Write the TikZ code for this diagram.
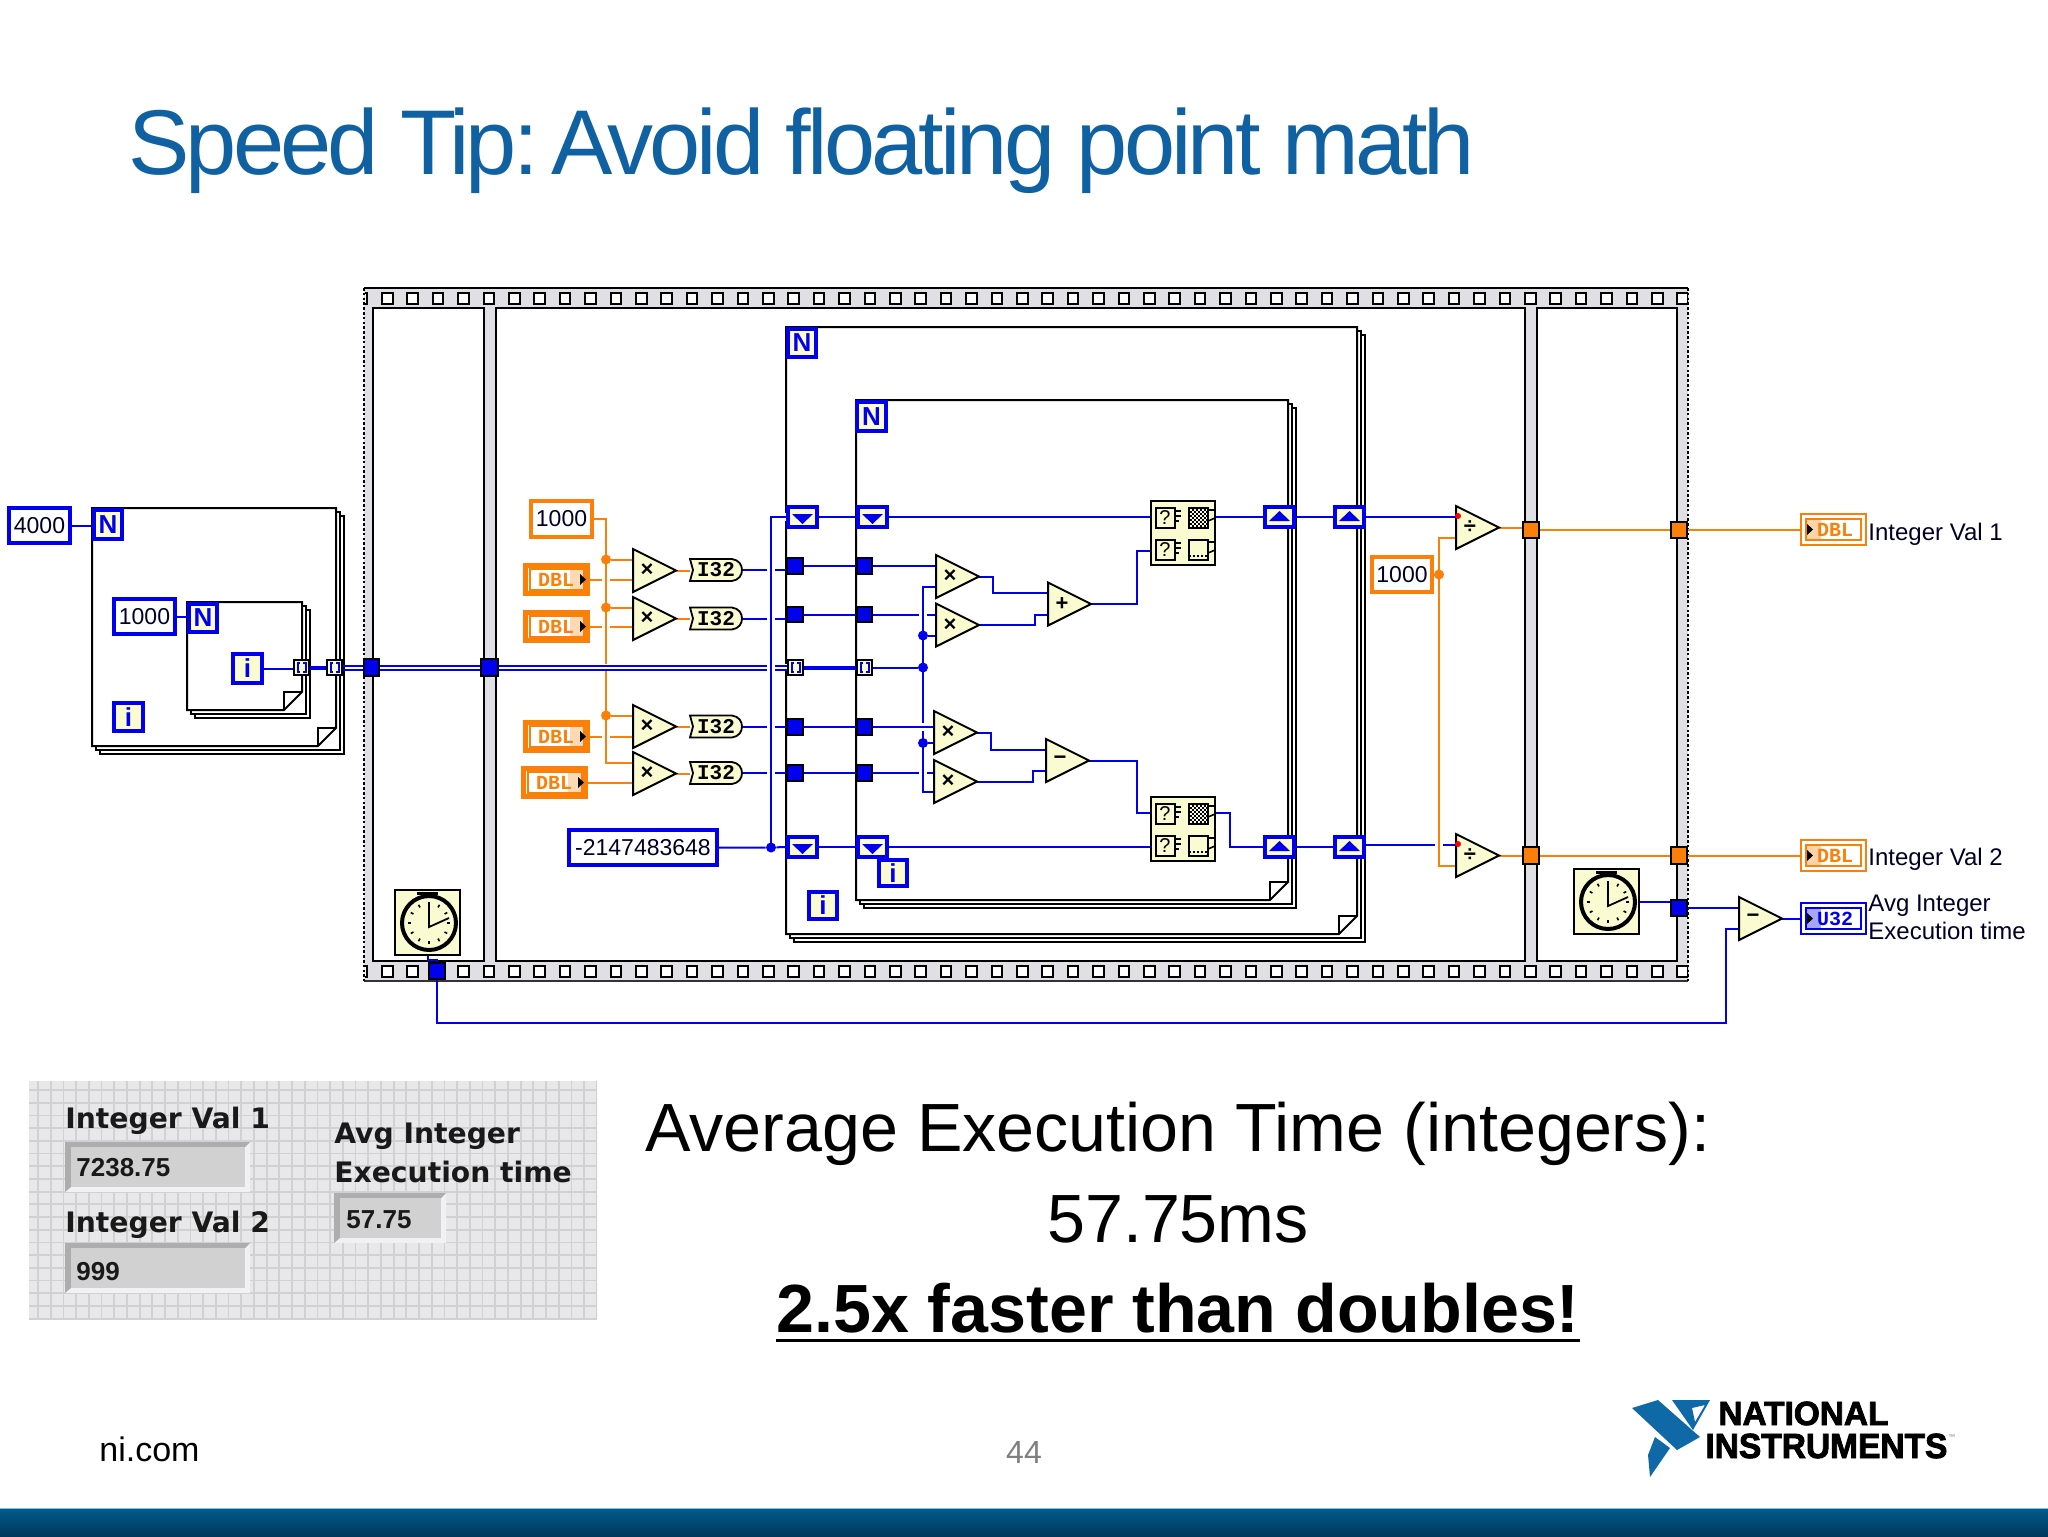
\documentclass[tikz,border=0pt]{standalone}
\usepackage{fontspec}
\usepackage{graphicx}
\setmainfont{Liberation Sans}
\newfontfamily\titlefont[LetterSpace=-4.25]{Liberation Sans}
\newfontfamily\monofnt{Liberation Mono}
\newfontfamily\dvfont{DejaVu Sans}
\newfontfamily\logofont{Liberation Sans}[UprightFont=* Bold, FakeBold=2.5]
\usetikzlibrary{calc}
\definecolor{lvb}{RGB}{0,0,238}
\definecolor{lvo}{RGB}{250,128,10}
\definecolor{lvy}{RGB}{251,251,210}
\definecolor{lvg}{RGB}{224,224,228}
\definecolor{ttl}{RGB}{16,97,162}
\definecolor{barT}{RGB}{0,90,140}
\definecolor{barB}{RGB}{0,56,92}
\definecolor{barL}{RGB}{130,190,225}
\pgfdeclarelayer{back}\pgfdeclarelayer{wire}
\pgfsetlayers{back,wire,main}
\tikzset{
 bw/.style={draw=lvb,line width=1pt},
 ow/.style={draw=lvo,line width=1pt},
 bwh/.style={bw,preaction={draw=white,line width=3.6pt}},
 owh/.style={ow,preaction={draw=white,line width=3.6pt}},
 anynode/.style={inner sep=0pt,font=\fontsize{11.5}{13}\selectfont\color{black!85!blue}},
 bconst/.style={anynode,draw=lvb,fill=white,line width=2pt},
 oconst/.style={anynode,draw=lvo,fill=white,line width=2pt},
 termbox/.style={anynode,draw=lvb,fill=lvy,line width=2pt,text=lvb,font=\fontsize{13}{14}\bfseries\selectfont},
 srbox/.style={anynode,draw=lvb,fill=lvy,line width=2pt},
 bsq/.style={anynode,draw=black,fill=lvb,line width=1pt},
 osq/.style={anynode,draw=black,fill=lvo,line width=1pt},
 tun/.style={anynode,draw=black,fill=lvy,line width=1pt},
 cxbox/.style={anynode,draw=black,fill=lvy,line width=1pt},
 tri/.style={draw=black,fill=lvy,line width=1pt,line join=miter},
 sym/.style={inner sep=0pt,font=\fontsize{11}{12}\bfseries\selectfont},
 jb/.style={circle,fill=lvb,inner sep=0pt,minimum size=5pt},
 jo/.style={circle,fill=lvo,inner sep=0pt,minimum size=5pt},
 ctlbox/.style={anynode,draw=lvo,fill=white,line width=2.4pt},
 indbox/.style={anynode,line width=1pt,fill=white},
 wlabel/.style={inner sep=0pt,anchor=base west,font=\fontsize{12}{14}\selectfont\color{black!85!blue}},
 plabel/.style={inner sep=0pt,anchor=base west,font=\fontsize{14.1}{16}\dvfont\bfseries\selectfont\color{black!90}},
 pvalue/.style={inner sep=0pt,anchor=west,font=\fontsize{13}{15}\bfseries\selectfont\color{black!90}},
 big/.style={inner sep=0pt,anchor=base,font=\fontsize{34.1}{40}\selectfont},
 loopline/.style={draw=black,fill=white,line width=1pt},
 ltext/.style={inner sep=0pt,anchor=base west,text=black}
}
% name x1 y1 x2 y2 style text
\newcommand\lvbox[7]{\node[#6,minimum width={(#4-#2)*0.5pt-\pgflinewidth},minimum height={(#5-#3)*0.5pt-\pgflinewidth}] (#1) at ({(#2+#4)/2},{(#3+#5)/2}) {#7};}
% triangle: name left top symbol
\newcommand\lvtri[4]{
 \draw[tri] (#2,#3) -- (#2+43,#3+21.5) -- (#2,#3+43) -- cycle;
 \node[sym] (#1) at (#2+14,#3+21.5) {#4};
 \coordinate (#1a) at (#2,#3+10.5);
 \coordinate (#1b) at (#2,#3+32);
 \coordinate (#1l) at (#2,#3+21.5);
 \coordinate (#1o) at (#2+43,#3+21.5);
}
% shift registers: name x y
\newcommand\lvsd[3]{\lvbox{#1}{#2}{#3}{#2+33}{#3+24}{srbox}{}
 \fill[lvb] (#2+6,#3+9) -- (#2+27,#3+9) -- (#2+16.5,#3+19) -- cycle;}
\newcommand\lvsu[3]{\lvbox{#1}{#2}{#3}{#2+33}{#3+24}{srbox}{}
 \fill[lvb] (#2+6,#3+16) -- (#2+27,#3+16) -- (#2+16.5,#3+6) -- cycle;}
% array tunnel: name x y
\newcommand\lvtun[3]{\lvbox{#1}{#2}{#3}{#2+17}{#3+17}{tun}{}
 \draw[lvb,line width=1pt] (#2+7,#3+4) -- (#2+4.5,#3+4) -- (#2+4.5,#3+13) -- (#2+7,#3+13);
 \draw[lvb,line width=1pt] (#2+10,#3+4) -- (#2+12.5,#3+4) -- (#2+12.5,#3+13) -- (#2+10,#3+13);}
% orange control: name x y
\newcommand\lvctl[3]{\lvbox{#1}{#2}{#3}{#2+67}{#3+33}{ctlbox}{}
 \fill[lvo!30] (#2+47,#3+6) rectangle (#2+60,#3+26);
 \draw[lvo,line width=.8pt] (#2+7,#3+6) rectangle (#2+61,#3+27);
 \node[inner sep=0pt,text=lvo,font=\fontsize{10}{11}\monofnt\bfseries\selectfont] at (#2+33,#3+16.5) {DBL};
 \fill[black] (#2+57,#3+11) -- (#2+63,#3+16.5) -- (#2+57,#3+22) -- cycle;}
% indicator: name x y colour text
\newcommand\lvind[5]{\lvbox{#1}{#2}{#3}{#2+67}{#3+33}{indbox,draw=#4}{}
 \fill[#4!35] (#2+6,#3+6) rectangle (#2+21,#3+27);
 \draw[#4,line width=.8pt] (#2+6,#3+6) rectangle (#2+61,#3+27);
 \node[inner sep=0pt,text=#4,font=\fontsize{10}{11}\monofnt\bfseries\selectfont] at (#2+35,#3+16.5) {#5};
 \fill[black] (#2+7,#3+11) -- (#2+13,#3+16.5) -- (#2+7,#3+22) -- cycle;}
% I32: name x y
\newcommand\lvconv[3]{
 \draw[black,fill=lvy,line width=.9pt] (#2,#3) -- (#2+42,#3) .. controls (#2+49,#3+1) and (#2+52,#3+6) .. (#2+52,#3+11) .. controls (#2+52,#3+16) and (#2+49,#3+21) .. (#2+42,#3+22) -- (#2,#3+22) -- (#2+3,#3+11) -- cycle;
 \node[minimum width=26pt,minimum height=11pt,inner sep=0pt,font=\fontsize{10.5}{11}\monofnt\bfseries\selectfont] (#1) at (#2+26,#3+11) {I32};}
% stacked loop: x1 y1 x2 y2
\newcommand\lvloop[4]{
 \draw[loopline] (#1+8,#2+8) rectangle (#3+8,#4+8);
 \draw[loopline] (#1+4,#2+4) rectangle (#3+4,#4+4);
 \draw[loopline] (#1,#2) -- (#3,#2) -- (#3,#4-18) -- (#3-18,#4) -- (#1,#4) -- cycle;
 \draw[black,line width=1pt] (#3-18,#4) -- (#3-18,#4-18) -- (#3,#4-18);}
% clock: name x y
\newcommand\lvclock[3]{\lvbox{#1}{#2}{#3}{#2+67}{#3+67}{cxbox}{}
 \coordinate (cc) at (#2+35,#3+34);
 \draw[black,line width=2pt] (cc) circle[radius=27];
 \draw[black,line width=1.6pt] (#2+23,#3+4.5) -- (#2+44,#3+4.5);
 \draw[black,line width=2pt] (#2+35,#3+4.5) -- (#2+35,#3+8);
 \foreach \a in {0,30,...,330}{\draw[black,line width=.8pt] (cc)+(\a:18) -- +(\a:21);}
 \draw[black,line width=.9pt] (#2+35,#3+14) -- (#2+35,#3+38) -- (#2+55,#3+29);}
% coffee cup icons
\newcommand\lvmug[2]{\draw[black,line width=1pt,fill=lvy] (#1,#2) rectangle (#1+19,#2+20);}
\newcommand\lvmugq[2]{\lvmug{#1}{#2}
 \draw[black,line width=.8pt] (#1+19,#2+3) -- (#1+25,#2+3) (#1+19,#2+8) -- (#1+25,#2+8) (#1+19,#2+13) -- (#1+23,#2+13);
 \node[inner sep=0pt,font=\fontsize{10}{10}\selectfont] at (#1+9,#2+10) {?};}
\newcommand\lvmugh[2]{\draw[black,line width=.8pt] (#1+19,#2+2) -- (#1+26,#2+2) -- (#1+26,#2+10) -- (#1+19,#2+13);}
\newcommand\lvcx[3]{\lvbox{#1}{#2}{#3}{#2+66}{#3+66}{cxbox}{}
 \coordinate (#1a) at (#2,#3+17);
 \coordinate (#1b) at (#2,#3+51);
 \coordinate (#1o) at (#2+66,#3+17);
 \lvmugq{#2+6}{#3+8}
 \lvmug{#2+39}{#3+8}\lvmugh{#2+39}{#3+8}
 \foreach \k in {1,...,9}{\draw[black,line width=1pt,dash pattern=on 1pt off 1pt,dash phase={mod(\k,2)*1pt}] (#2+40,#3+8+\k*2) -- (#2+57,#3+8+\k*2);}
 \lvmugq{#2+6}{#3+40}
 \lvmug{#2+39}{#3+40}\lvmugh{#2+39}{#3+40}
 \draw[black,line width=1.4pt,dash pattern=on 1pt off 1pt] (#2+39,#3+56) -- (#2+58,#3+56);}
% front panel indicator: x1 y1 x2 y2
\newcommand\lvpanelbox[4]{
 \fill[white!55!lvg] (#1,#2) rectangle (#3,#4);
 \fill[black!32] (#1,#2) -- (#3,#2) -- (#3-5,#2+5) -- (#1+6,#2+5) -- (#1+6,#4-5) -- (#1,#4) -- cycle;
 \fill[black!18] (#1+6,#2+5) rectangle (#3-5,#4-5);}

\begin{document}
\begin{tikzpicture}[x=0.5pt,y=-0.5pt]
\useasboundingbox (0,0) rectangle (2048,1536);

% ===== back layer: frames and loops
\begin{pgfonlayer}{back}
\fill[white] (0,0) rectangle (2048,1536);
\fill[lvg] (364,288) rectangle (1688,981);
\draw[black,line width=1pt] (364,288) -- (1688,288);
\draw[black!80,line width=1pt] (364,981) -- (1688,981);
\draw[black,line width=1.3pt,dash pattern=on 1.3pt off 1.1pt] (364,288) -- (364,981);
\draw[black,line width=1.3pt,dash pattern=on 1.3pt off 1.1pt] (1688,288) -- (1688,981);
\begin{scope}
\clip (365,288) rectangle (1688,981);
\foreach \k in {-1,...,51}{
 \draw[black,fill=white,line width=1pt] (382+\k*25.4,293) rectangle (392.5+\k*25.4,303.5);
 \draw[black,fill=white,line width=1pt] (382+\k*25.4,966) rectangle (392.5+\k*25.4,976.5);}
\end{scope}
\draw[black,fill=white,line width=1pt] (373,308) rectangle (484,961);
\draw[black,fill=white,line width=1pt] (496,308) rectangle (1525,961);
\draw[black,fill=white,line width=1pt] (1537,308) rectangle (1677,961);
\lvloop{92}{508}{336}{746}
\lvloop{187}{602}{302}{710}
\lvloop{786}{327}{1357}{934}
\lvloop{856}{400}{1288}{900}
\end{pgfonlayer}

% ===== nodes of the left loops
\lvbox{c4k}{7}{506}{72}{545}{bconst}{4000}
\lvbox{n1}{92}{508}{124}{541}{termbox}{N}
\lvbox{c1kb}{112}{597}{177}{636}{bconst}{1000}
\lvbox{n2}{187}{602}{219}{634}{termbox}{N}
\lvbox{i2}{231}{652}{264}{685}{termbox}{i}
\lvbox{i1}{112}{701}{145}{733}{termbox}{i}
\lvtun{t1}{293}{659}
\lvtun{t2}{326}{659}
\lvbox{sA}{363}{658}{380}{677}{bsq}{}
\lvbox{sB}{480}{658}{499}{677}{bsq}{}

% ===== constants, controls, first multiply stage
\lvbox{o1}{529}{499}{594}{539}{oconst}{1000}
\lvctl{d1}{523}{563}
\lvctl{d2}{523}{610}
\lvctl{d3}{523}{720}
\lvctl{d4}{521}{766}
\lvtri{T1}{633}{549}{×}
\lvtri{T2}{633}{597}{×}
\lvtri{T3}{633}{705}{×}
\lvtri{T4}{633}{752}{×}
\lvconv{I1}{690}{559}
\lvconv{I2}{690}{607.5}
\lvconv{I3}{690}{715.5}
\lvconv{I4}{690}{762}
\lvbox{ck}{567}{828}{719}{867}{bconst}{-2147483648}

% ===== tunnels on the outer and inner For Loops
\lvbox{n3}{786}{327}{818}{359}{termbox}{N}
\lvbox{n4}{855}{400}{888}{433}{termbox}{N}
\lvsd{sd1}{786}{505}
\lvsd{sd2}{856}{505}
\lvsd{sd3}{786}{835}
\lvsd{sd4}{856}{835}
\lvbox{s1}{786}{557}{804}{575}{bsq}{}
\lvbox{s2}{786}{606}{804}{623}{bsq}{}
\lvbox{s3}{786}{718}{804}{736}{bsq}{}
\lvbox{s4}{786}{764}{804}{782}{bsq}{}
\lvbox{r1}{856}{557}{873}{575}{bsq}{}
\lvbox{r2}{856}{606}{873}{623}{bsq}{}
\lvbox{r3}{856}{718}{873}{736}{bsq}{}
\lvbox{r4}{856}{764}{873}{782}{bsq}{}
\lvtun{t3}{787}{659}
\lvtun{t4}{856}{659}
\lvbox{i4}{877}{858}{909}{888}{termbox}{i}
\lvbox{i3}{807}{890}{839}{921}{termbox}{i}

% ===== inner math
\lvtri{A}{936}{555}{×}
\lvtri{B}{936}{603.5}{×}
\lvtri{C}{934}{711}{×}
\lvtri{D}{934}{760}{×}
\lvtri{P}{1048}{582.5}{+}
\lvtri{M}{1046}{739}{−}
\lvcx{cxa}{1150}{500}
\lvcx{cxb}{1150}{796}
\lvsu{su1}{1263}{505}
\lvsu{su2}{1333}{505}
\lvsu{su3}{1263}{835}
\lvsu{su4}{1333}{835}

% ===== right of the loops
\lvbox{o2}{1370}{555}{1434}{594}{oconst}{1000}
\lvtri{Fu}{1456}{506}{÷}
\lvtri{Fv}{1456}{834}{÷}
\lvbox{q1}{1522}{521}{1540}{539}{osq}{}
\lvbox{q2}{1670}{521}{1688}{539}{osq}{}
\lvbox{q3}{1522}{846}{1540}{865}{osq}{}
\lvbox{q4}{1670}{846}{1688}{865}{osq}{}
\lvind{v1}{1800}{513}{lvo}{DBL}
\lvind{v2}{1800}{839}{lvo}{DBL}
\lvind{v3}{1800}{902}{lvb}{U32}
\node[wlabel] (l1) at (1868,540) {Integer Val 1};
\node[wlabel] (l2) at (1868,865) {Integer Val 2};
\node[wlabel] (l3) at (1868,911) {Avg Integer};
\node[wlabel] (l4) at (1868,939) {Execution time};
\lvclock{ck1}{394}{889}
\lvclock{ck2}{1573}{868}
\lvbox{sC}{428}{962}{446}{980}{bsq}{}
\lvbox{sD}{1670}{899}{1688}{917}{bsq}{}
\lvtri{E}{1739}{897}{−}
\fill[red] (1458,516) circle[radius=3];
\fill[red] (1458,844) circle[radius=3];

% ===== wires
\begin{pgfonlayer}{wire}
\draw[bw] (c4k.east) -- (c4k.east -| n1.west);
\draw[bw] (c1kb.east) -- (c1kb.east -| n2.west);
\draw[bw] (i2.east) -- (i2.east -| t1.west);
\draw[bw,line width=2pt] (t1.east) -- (t2.west);
\draw[bw] ([yshift=1pt]t2.east) -- ([yshift=1pt]t2.east -| sA.west);
\draw[bw] ([yshift=-1pt]t2.east) -- ([yshift=-1pt]t2.east -| sA.west);
\draw[bw] ([yshift=1pt]sA.east) -- ([yshift=1pt]sA.east -| sB.west);
\draw[bw] ([yshift=-1pt]sA.east) -- ([yshift=-1pt]sA.east -| sB.west);

% orange multiply inputs
\coordinate (sp1) at (606,519);
\coordinate (sp2) at (606,762.5);
\draw[ow] (T1o) -- (T1o -| I1.west);
\draw[ow] (T2o) -- (T2o -| I2.west);
\draw[ow] (T3o) -- (T3o -| I3.west);
\draw[ow] (T4o) -- (T4o -| I4.west);
\draw[ow] (d1.east) -- (d1.east -| T1l);
\draw[ow] (d2.east) -- (d2.east -| T2l);
\draw[ow] (d3.east) -- (d3.east -| T3l);
\draw[ow] (d4.east) -- (d4.east -| T4l);
\draw[owh] (o1.east) -- (sp1) -- (sp2) -- (T4a);
\node[jo] (ja) at (sp1 |- T1a) {};
\node[jo] (jb) at (sp1 |- T2a) {};
\node[jo] (jc) at (sp1 |- T3a) {};
\draw[ow] (ja) -- (T1a);
\draw[ow] (jb) -- (T2a);
\draw[ow] (jc) -- (T3a);

% blue I32 outputs and double wire
\draw[bw] (I1.east) -- (I1.east -| s1.west);
\draw[bw] (I2.east) -- (I2.east -| s2.west);
\draw[bw] (I3.east) -- (I3.east -| s3.west);
\draw[bw] (I4.east) -- (I4.east -| s4.west);
\draw[white,line width=3.6pt] ([xshift=2pt]sB.east) -- (sB.east -| t3.west);
\draw[bw] ([yshift=1pt]sB.east) -- ([yshift=1pt]sB.east -| t3.west);
\draw[bw] ([yshift=-1pt]sB.east) -- ([yshift=-1pt]sB.east -| t3.west);
\coordinate (vt) at (771,517);
\coordinate (vb) at (771,847.5);
\draw[bwh] (sd1.west) -- (vt) -- (vb);
\node[jb] (jd) at (vb) {};
\draw[bw] (ck.east) -- (jd) -- (sd3.west);
\draw[bw] (sd1.east) -- (sd2.west);
\draw[bw] (sd3.east) -- (sd4.west);
\draw[bw] (s1.east) -- (r1.west);
\draw[bw] (s2.east) -- (r2.west);
\draw[bw] (s3.east) -- (r3.west);
\draw[bw] (s4.east) -- (r4.west);
\draw[bw,line width=2pt] (t3.east) -- (t4.west);

% inner multiply inputs
\coordinate (w1) at (923,587);
\coordinate (w2) at (923,792);
\draw[bw] (r1.east) -- (r1.east -| Al);
\draw[bw] (r2.east) -- (r2.east -| Bl);
\draw[bw] (r4.east) -- (r4.east -| Dl);
\draw[bwh] (Ab) -- (w1) -- (w2) -- (Db);
\node[jb] (je) at (w1 |- Bb) {};
\node[jb] (jf) at (w1 |- t4.east) {};
\node[jb] (jg) at (923,743) {};
\draw[bw] (je) -- (Bb);
\draw[bw] (t4.east) -- (jf);
\draw[bw] (jg) -- (Cl |- jg);
\draw[bwh] (r3.east) -- (r3.east -| Cl);

% math to cups
\draw[bw] (Ao) -- ++(14,0) |- (Pa);
\draw[bw] (Bo) -- ++(56,0) |- (Pb);
\draw[bw] (Co) -- ++(14,0) |- (Ma);
\draw[bw] (Do) -- ++(56,0) |- (Mb);
\draw[bw] (Po) -- ++(46,0) |- (cxab);
\draw[bw] (Mo) -- ++(48,0) |- (cxba);
\draw[bw] (sd2.east) -- (sd2.east -| cxaa);
\draw[bw] (sd4.east) -- (sd4.east -| cxbb);
\draw[bw] (cxao) -- (cxao -| su1.west);
\draw[bw] (cxbo) -- ++(14,0) |- (su3.west);
\draw[bw] (su1.east) -- (su2.west);
\draw[bw] (su3.east) -- (su4.west);
\draw[bw] (Fua -| su2.east) -- (Fua);
\draw[bw] (Fva -| su4.east) -- (Fva);

% right-hand outputs
\coordinate (jhc) at (1439,574.5);
\draw[owh] (Fub) -- (jhc |- Fub) -- (jhc |- Fvb) -- (Fvb);
\node[jo] (jh) at (jhc) {};
\draw[ow] (o2.east) -- (jh);
\draw[ow] (Fuo) -- (Fuo -| q1.west);
\draw[ow] (Fvo) -- (Fvo -| q3.west);
\draw[ow] (q1.east) -- (q2.west);
\draw[ow] (q3.east) -- (q4.west);
\draw[ow] (q2.east) -- (q2.east -| v1.west);
\draw[ow] (q4.east) -- (q4.east -| v2.west);
\draw[bw] (ck1.south -| 428,0) -- ++(0,4) -| (sC.north);
\draw[bw] (sC.south) |- (1726,1023) |- (Eb);
\draw[bw] (ck2.east) -- (ck2.east -| sD.west);
\draw[bw] (sD.east) -- (sD.east -| Ea);
\draw[bw] (Eo) -- (Eo -| v3.west);
\end{pgfonlayer}

% ===== title and slide text
\node[inner sep=0pt,anchor=base west,text=ttl,font=\fontsize{46}{50}\titlefont\selectfont] (title) at (128,174) {Speed Tip:\hspace{-8pt} Avoid floating point math};
\node[big] (avg) at (1178,1151) {Average Execution Time (integers):};
\node[big] (ms) at (1178,1242) {57.75ms};
\node[big,font=\fontsize{34.1}{40}\bfseries\selectfont] (fast) at (1178,1332) {2.5x faster than doubles!};
\draw[black,line width=1.8pt] ([yshift=-4.2pt]fast.base west) -- ([yshift=-4.2pt]fast.base east);
\node[ltext,font=\fontsize{17}{20}\selectfont] (nicom) at (99,1461) {ni.com};
\node[inner sep=0pt,anchor=base,text=black!50,font=\fontsize{16}{20}\selectfont] (pg) at (1024,1463) {44};

% ===== front panel
\fill[black!3!lvg!60!white] (29,1081) rectangle (597,1319);
\begin{scope}
\clip (29,1081) rectangle (597,1319);
\foreach \i in {0,...,44}{\draw[black!18,line width=.9pt] (38+\i*12.7,1081) -- (38+\i*12.7,1319);}
\foreach \i in {0,...,18}{\draw[black!18,line width=.9pt] (29,1090+\i*12.7) -- (597,1090+\i*12.7);}
\end{scope}
\lvpanelbox{65}{1142}{250}{1192}
\lvpanelbox{65}{1243}{250}{1293}
\lvpanelbox{334}{1193}{446}{1243}
\node[plabel] (p1) at (65,1128) {Integer Val 1};
\node[plabel] (p2) at (65,1232) {Integer Val 2};
\node[plabel] (p3) at (334,1143) {Avg Integer};
\node[plabel] (p4) at (334,1182) {Execution time};
\node[pvalue] (p5) at (76,1168) {7238.75};
\node[pvalue] (p6) at (76,1272) {999};
\node[pvalue] (p7) at (346,1220) {57.75};

% ===== logo and bottom bar
\fill[ttl!95!cyan] (1632,1408) -- (1658,1400) -- (1700,1437) -- (1677,1450) -- cycle;
\fill[ttl!95!cyan] (1655,1437) -- (1670,1448) -- (1650,1477) -- (1648,1455) -- cycle;
\fill[ttl!95!cyan,even odd rule] (1672,1400) -- (1710,1400) -- (1693,1430) -- cycle (1692,1408) -- (1705,1405) -- (1695,1422) -- cycle;
\node[inner sep=0pt,anchor=base west] (nat) at (1718,1425) {\resizebox{85pt}{11.7pt}{\logofont NATIONAL}};
\node[inner sep=0pt,anchor=base west] (ins) at (1705,1458) {\resizebox{121pt}{12.2pt}{\logofont INSTRUMENTS}};
\node[inner sep=0pt,anchor=west,text=black!50,font=\fontsize{3.5}{4}\selectfont] (tm) at (1948,1437) {™};
\shade[top color=barT,bottom color=barB] (0,1509) rectangle (2048,1536);
\draw[barL,line width=.8pt] (0,1508.5) -- (2048,1508.5);
\end{tikzpicture}
\end{document}
